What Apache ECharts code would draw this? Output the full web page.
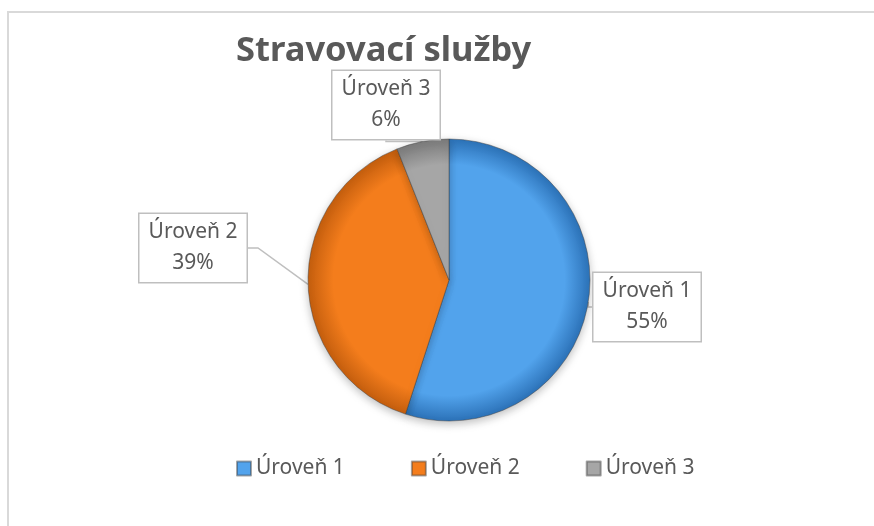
<!DOCTYPE html>
<html>
<head>
<meta charset="utf-8">
<script src="https://cdn.jsdelivr.net/npm/echarts@6/dist/echarts.min.js"></script>
<style>
  html, body { margin: 0; padding: 0; background: #fff; }
  #chart { width: 874px; height: 526px; }
</style>
</head>
<body>
<div id="chart"></div>
<script>
var categories = ['Úroveň 1', 'Úroveň 2', 'Úroveň 3'];
var shares = [55, 39, 6];
var baseColors = ['#52a3ec', '#f47d1c', '#a6a6a6'];
var edgeColors = ['#2c72b8', '#c45e0e', '#7a7a7a'];
// callout box centres
var boxPos = [[647, 307], [193, 248], [386, 105]];

var cx = 449, cy = 280, r = 141;

var chart = echarts.init(document.getElementById('chart'));

var pieData = categories.map(function (name, i) {
  return {
    name: name,
    value: shares[i],
    itemStyle: {
      color: {
        type: 'radial', x: cx, y: cy, r: r, global: true,
        colorStops: [
          { offset: 0, color: baseColors[i] },
          { offset: 0.82, color: baseColors[i] },
          { offset: 1, color: edgeColors[i] }
        ]
      }
    }
  };
});

var option = {
  backgroundColor: '#fff',
  animation: false,
  title: {
    text: 'Stravovací služby',
    left: 231,
    top: 29,
    textStyle: {
      fontFamily: 'Noto Sans',
      fontWeight: 'bold',
      fontSize: 34.5,
      color: '#595959'
    }
  },
  graphic: [{
    type: 'rect',
    shape: { x: 8, y: 12, width: 900, height: 560 },
    style: { fill: 'none', stroke: '#d9d9d9', lineWidth: 2 },
    silent: true
  }],
  legend: {
    top: 453,
    left: 231,
    icon: 'rect',
    itemWidth: 14,
    itemHeight: 14,
    itemGap: 66,
    textStyle: { fontFamily: 'Noto Sans', fontSize: 21, color: '#595959' },
    data: categories.map(function (name, i) {
      return { name: name, itemStyle: { color: baseColors[i] } };
    })
  },
  series: [{
    type: 'pie',
    center: [cx, cy],
    radius: [0, r],
    startAngle: 90,
    clockwise: true,
    data: pieData,
    itemStyle: {
      borderColor: 'rgba(60,60,60,0.45)',
      borderWidth: 1,
      shadowBlur: 8,
      shadowOffsetY: 3,
      shadowColor: 'rgba(0,0,0,0.25)'
    },
    label: {
      show: true,
      position: 'outside',
      formatter: '{b}\n{d}%',
      fontFamily: 'Noto Sans',
      fontSize: 21,
      lineHeight: 31,
      color: '#595959',
      align: 'center',
      backgroundColor: '#fff',
      borderColor: '#bfbfbf',
      borderWidth: 1.5,
      width: 91,
      padding: [3, 8]
    },
    labelLine: {
      show: true,
      length: 10,
      length2: 10,
      lineStyle: { color: '#bfbfbf', width: 1.5 }
    },
    labelLayout: function (p) {
      var pos = boxPos[p.dataIndex];
      return { x: pos[0], y: pos[1], align: 'center', verticalAlign: 'middle' };
    },
    emphasis: { disabled: true }
  }]
};
chart.setOption(option);
</script>
</body>
</html>
